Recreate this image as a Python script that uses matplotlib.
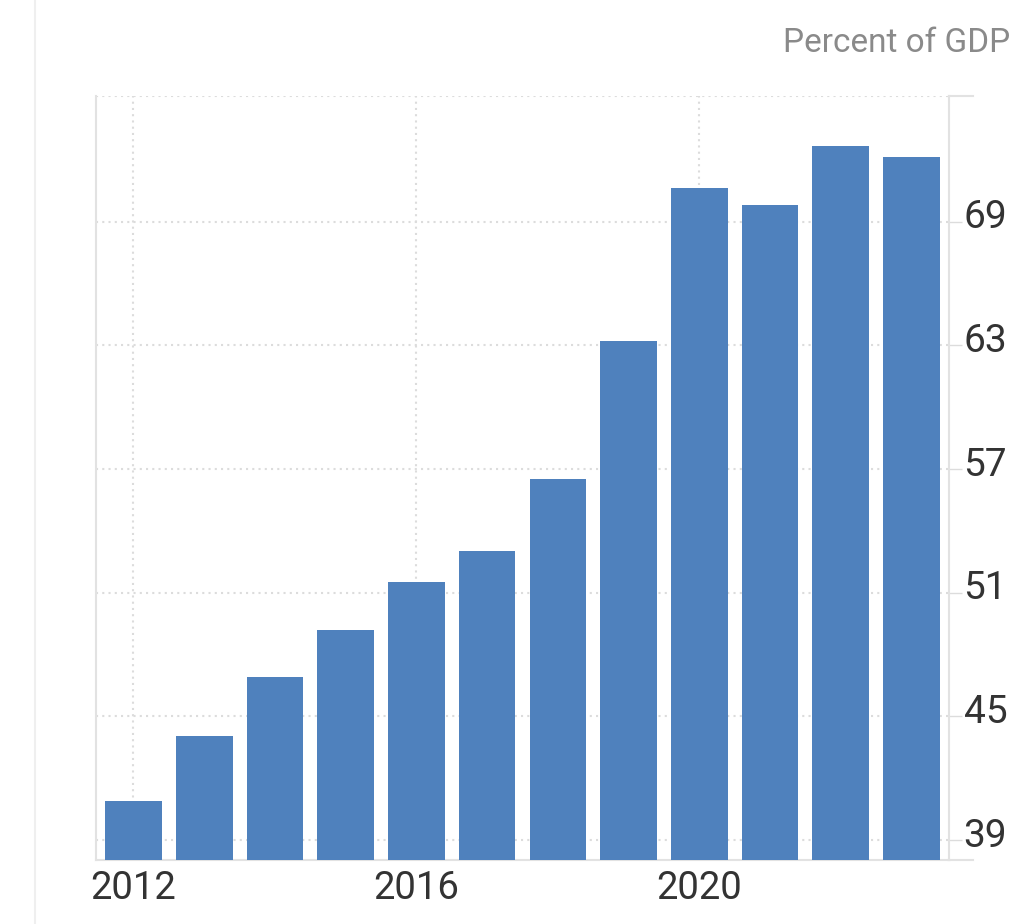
import matplotlib.pyplot as plt
import matplotlib.transforms as mtransforms
from matplotlib.lines import Line2D

plt.rcParams['font.family'] = ['Roboto', 'DejaVu Sans']

years = [2012, 2013, 2014, 2015, 2016, 2017, 2018, 2019, 2020, 2021, 2022, 2023]
debt = [40.9, 44.05, 46.9, 49.2, 51.5, 53.0, 56.5, 63.2, 70.65, 69.8, 72.65, 72.15]
y_ticks = [39, 45, 51, 57, 63, 69]
x_ticks = [2012, 2016, 2020]

bar_color = '#4f81bd'
grid_color = '#dcdcdc'
text_color = '#333333'

fig = plt.figure(figsize=(10.24, 9.24), dpi=100)
W, H = 1024, 924
left, right, top, bottom = 96, 949, 96, 860
ax = fig.add_axes([left / W, 1 - bottom / H, (right - left) / W, (bottom - top) / H])

ax.bar(years, debt, width=0.8, color=bar_color, zorder=3)

ax.set_xlim(2011.47, 2023.53)
ax.set_ylim(38.03, 75.1)

ax.set_yticks(y_ticks)
ax.set_xticks(x_ticks)
ax.yaxis.tick_right()
ax.tick_params(axis='y', length=9.5, width=1, color=grid_color, pad=1,
               labelsize=28, labelcolor=text_color)
ax.tick_params(axis='x', length=0, pad=7, labelsize=27.5, labelcolor=text_color)

# y labels sit a little above their gridlines
shift = mtransforms.ScaledTranslation(0, 4 / 100, fig.dpi_scale_trans)
for lab in ax.get_yticklabels():
    lab.set_va('center')
    lab.set_transform(lab.get_transform() + shift)

ax.grid(True, linestyle=(0, (1, 2)), color=grid_color, linewidth=1.5, zorder=0)

ax.spines['top'].set_visible(False)
for side in ['left', 'right', 'bottom']:
    ax.spines[side].set_color('#e2e2e2')
    ax.spines[side].set_linewidth(1.5)

# dotted top border + short solid extensions on the right
ax.axhline(75.1, color=grid_color, linestyle=(0, (1, 2)), linewidth=1.5, zorder=0)
fig.add_artist(Line2D([right / W, 973 / W], [1 - top / H, 1 - top / H],
                      color='#e2e2e2', linewidth=1.5))
fig.add_artist(Line2D([right / W, 973 / W], [1 - bottom / H, 1 - bottom / H],
                      color='#e2e2e2', linewidth=1.5))

# faint page edge on the left
fig.add_artist(Line2D([35 / W, 35 / W], [0, 1], color='#efefef', linewidth=1.5))

fig.text(1010 / W, 1 - 43 / H, 'Percent of GDP', ha='right', va='center',
         fontsize=24, color='#8a8a8a')

fig.savefig('out.png', dpi=100)
